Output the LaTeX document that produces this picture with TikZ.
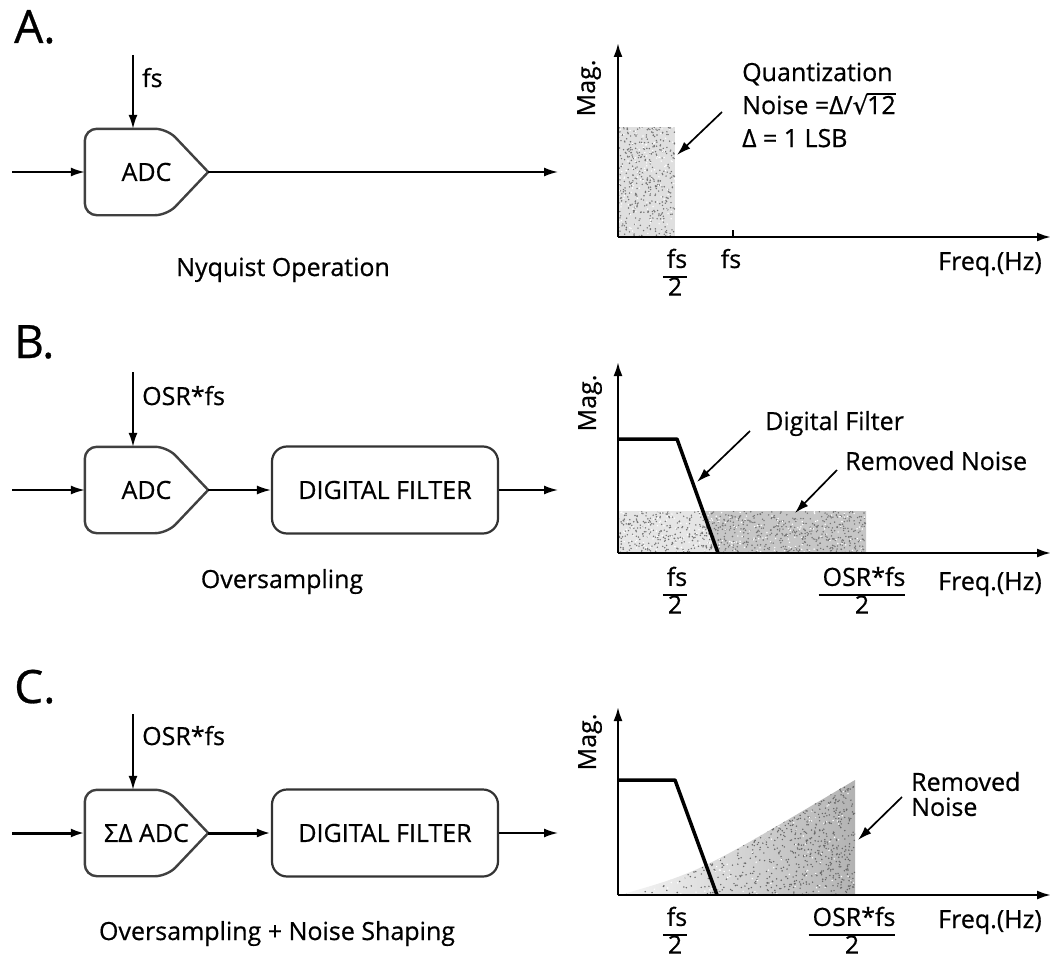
\documentclass[tikz,border=0pt]{standalone}
\usepackage{fontspec}
\setmainfont[FakeBold=0.6]{Open Sans}
\newfontfamily\symf[FakeBold=0.6]{DejaVu Sans}
\usetikzlibrary{arrows.meta,calc}
\newcommand\adcoutline[1]{%
  \draw[adcline] (#1.east) -- ([xshift=-41pt]#1.north east) -- (#1.north west) -- (#1.south west) -- ([xshift=-41pt]#1.south east) -- (#1.east);}
\newcommand\stackfrac[2]{{\setlength\arrayrulewidth{2pt}\renewcommand\arraystretch{0.85}\begin{tabular}{@{}c@{}}\hspace{4pt}#1\hspace{4pt}\\\hline #2\end{tabular}}}
\newcommand\rootof[1]{{\symf √}\kern-1.5pt\vbox{\hrule height 1.6pt\kern 1pt\hbox{#1}}}
\newcommand\sprinkle[6]{\foreach \k in {1,...,#5}{\pgfmathsetmacro\spx{#1+#3*rnd}\pgfmathsetmacro\spy{#2+#4*rnd}\fill[#6] (\spx,\spy) circle[radius=0.8pt];}}
\newcommand\sprinkleramp[6]{\foreach \k in {1,...,#5}{\pgfmathsetmacro\spx{#1+#3*sqrt(rnd)}\pgfmathsetmacro\spy{#2+#4*rnd}\fill[#6] (\spx,\spy) circle[radius=0.8pt];}}
\begin{document}
\begin{tikzpicture}[x=1pt,y=-1pt,
  every node/.style={font=\fontsize{25}{30}\selectfont, inner sep=0pt},
  big/.style={font=\fontsize{46}{50}\selectfont},
  arr/.style={line width=1.7pt, -{Latex[length=14pt,width=9pt]}},
  tarr/.style={line width=3pt, -{Latex[length=14pt,width=9pt]}},
  adcnode/.style={minimum width=123pt, minimum height=86pt},
  adcline/.style={draw=black!75, line width=2.4pt, rounded corners=12pt, line cap=round, line join=round},
  dfbox/.style={draw=black!80, line width=2.2pt, rounded corners=15pt, minimum width=226pt, minimum height=87pt},
  axis/.style={line width=2.2pt, -{Latex[length=14pt,width=9pt]}},
  filt/.style={line width=3.5pt, line join=round},
  note/.style={line width=1.7pt, -{Latex[length=14pt,width=9pt]}},
  ]
\useasboundingbox[fill=white] (0,0) rectangle (1053,958);
\pgfmathsetseed{11}
% ================= A =================
\node[big, anchor=base west] (labA) at (14,43) {A.};
\node[adcnode] (adcA) at (146.5,172) {ADC\hspace{16pt}};
\adcoutline{adcA}
\coordinate (inA) at (12,172);
\coordinate (clkA) at (133,55);
\coordinate (outA) at (558,172);
\draw[arr] (inA) -- (adcA.west);
\draw[arr] (clkA) -- (clkA |- adcA.north);
\draw[arr] (adcA.east) -- (outA);
\node[anchor=base west] (fsA) at (142,87) {fs};
\node[anchor=base] (capA) at (283,276) {Nyquist Operation};
% graph A
\begin{scope}
  \clip (618,127) rectangle (675,237);
  \fill[gray!25] (618,127) rectangle (675,237);
  \sprinkle{618}{127}{57}{110}{400}{black!55}
  \sprinkle{618}{127}{57}{110}{120}{white}
\end{scope}
\coordinate (oA) at (618,237);
\coordinate (yA) at (618,43);
\coordinate (xA) at (1051,237);
\draw[axis] (oA) -- (yA);
\draw[axis] (oA) -- (xA);
\draw[line width=2pt] (733,237) -- (733,230);
\node[rotate=90] (magA) at (589,88) {Mag.};
\node[anchor=base] (fsxA) at (731,268) {fs};
\node (halfA) at (675,276) {\stackfrac{fs}{2}};
\node[anchor=base] (freqA) at (990,270) {Freq.(Hz)};
\node[anchor=west, align=left, font=\fontsize{25}{33}\selectfont] (qA) at (742,105) {Quantization\\Noise =Δ/\rootof{12}\\Δ = 1 LSB};
\coordinate (qs) at (722,112);
\coordinate (qe) at (677,155);
\draw[note] (qs) -- (qe);
% ================= B =================
\node[big, anchor=base west] (labB) at (14,358) {B.};
\node[adcnode] (adcB) at (146.5,490) {ADC\hspace{16pt}};
\adcoutline{adcB}
\node[dfbox] (dfB) at (385,490) {DIGITAL FILTER};
\coordinate (inB) at (12,490);
\coordinate (clkB) at (133,372);
\coordinate (outB) at (558,490);
\draw[arr] (inB) -- (adcB.west);
\draw[arr] (clkB) -- (clkB |- adcB.north);
\draw[arr] (adcB.east) -- (dfB.west);
\draw[arr] (dfB.east) -- (outB);
\node[anchor=base west] (osrB) at (142,405) {OSR*fs};
\node[anchor=base] (capB) at (282,588) {Oversampling};
% graph B
\begin{scope}
  \clip (618,511) rectangle (866,553);
  \fill[gray!20] (618,511) rectangle (866,553);
  \fill[gray!45] (703,511) -- (866,511) -- (866,553) -- (718,553) -- cycle;
  \sprinkle{618}{511}{248}{42}{750}{black!55}
  \sprinkle{618}{511}{248}{42}{200}{white}
\end{scope}
\coordinate (oB) at (618,553);
\coordinate (yB) at (618,362);
\coordinate (xB) at (1051,553);
\draw[axis] (oB) -- (yB);
\draw[axis] (oB) -- (xB);
\draw[filt] (618,439) -- (677,439) -- (718,553);
\node[rotate=90] (magB) at (590,403) {Mag.};
\node[anchor=base west] (dfl) at (765,430) {Digital Filter};
\node[anchor=base west] (rnB) at (845,470) {Removed Noise};
\coordinate (ds) at (750,431);
\coordinate (de) at (697,482);
\draw[note] (ds) -- (de);
\coordinate (rs) at (837,470);
\coordinate (re) at (795,513);
\draw[note] (rs) -- (re);
\node (halfB) at (675,594) {\stackfrac{fs}{2}};
\node (osrhB) at (862,594) {\stackfrac{OSR*fs}{2}};
\node[anchor=base] (freqB) at (990,590) {Freq.(Hz)};
% ================= C =================
\node[big, anchor=base west] (labC) at (14,703) {C.};
\node[adcnode] (adcC) at (146.5,833) {ΣΔ ADC\hspace{15pt}};
\adcoutline{adcC}
\node[dfbox] (dfC) at (385,833) {DIGITAL FILTER};
\coordinate (inC) at (12,833);
\coordinate (clkC) at (133,714);
\coordinate (outC) at (558,833);
\draw[tarr] (inC) -- (adcC.west);
\draw[arr] (clkC) -- (clkC |- adcC.north);
\draw[tarr] (adcC.east) -- (dfC.west);
\draw[arr] (dfC.east) -- (outC);
\node[anchor=base west] (osrC) at (142,745) {OSR*fs};
\node[anchor=base] (capC) at (277,940) {Oversampling + Noise Shaping};
% graph C
\begin{scope}
  \clip (620,895) .. controls (700,872) .. (855,780) -- (855,895) -- cycle;
  \shade[left color=gray!6, right color=gray!60] (618,780) rectangle (855,895);
  \sprinkleramp{618}{780}{237}{115}{1000}{black!60}
  \sprinkle{618}{780}{237}{115}{200}{white}
\end{scope}
\coordinate (oC) at (618,895);
\coordinate (yC) at (618,707);
\coordinate (xC) at (1051,895);
\draw[axis] (oC) -- (yC);
\draw[axis] (oC) -- (xC);
\draw[filt] (618,780) -- (675,780) -- (717,895);
\node[rotate=90] (magC) at (590,742) {Mag.};
\node[anchor=west, align=left, font=\fontsize{25}{25}\selectfont] (rnC) at (911,794) {Removed\\Noise};
\coordinate (cs) at (902,797);
\coordinate (ce) at (858,840);
\draw[note] (cs) -- (ce);
\node (halfC) at (675,934) {\stackfrac{fs}{2}};
\node (osrhC) at (852,934) {\stackfrac{OSR*fs}{2}};
\node[anchor=base] (freqC) at (990,928) {Freq.(Hz)};
\end{tikzpicture}
\end{document}
